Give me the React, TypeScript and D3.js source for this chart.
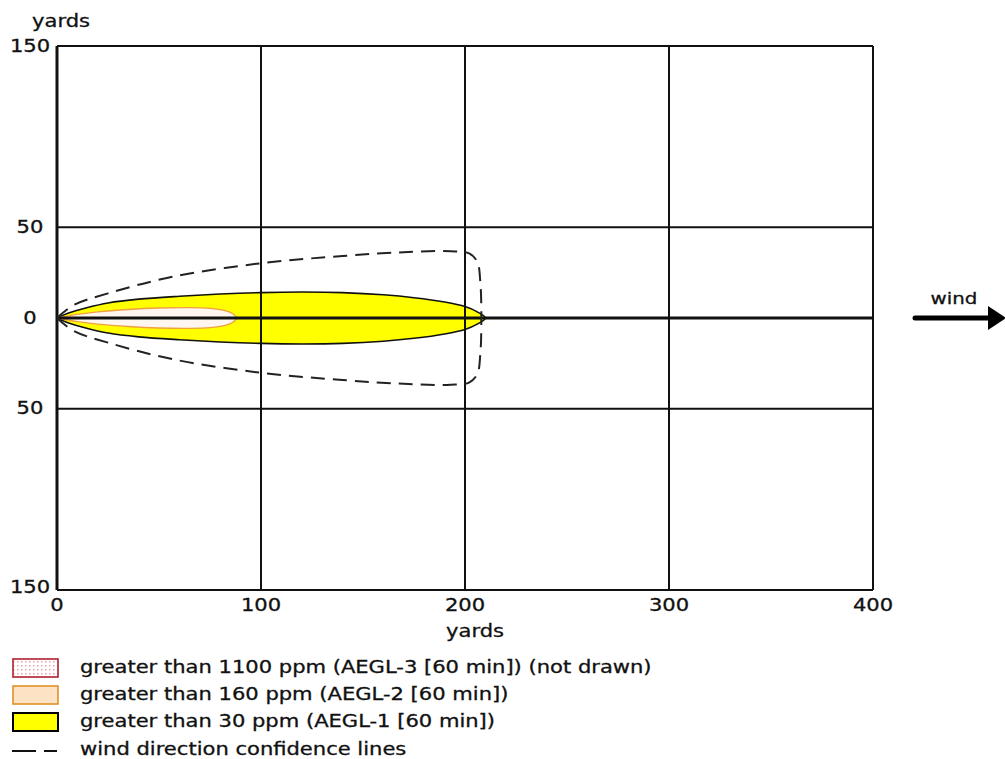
import React from 'react'
import { scaleLinear, line, curveCatmullRom } from 'd3'

// downwind distance (yards) vs half-width (yards) of each zone
const aegl1Profile: [number, number][] = [
  [0, 0], [5, 2.5], [15, 5.8], [25, 8.3], [40, 10.4], [60, 12], [80, 13.2],
  [100, 14], [120, 14.3], [140, 14], [160, 12.8], [175, 11.2], [190, 8.8],
  [200, 6.3], [206, 3.4], [210, 0],
]
const aegl2Profile: [number, number][] = [
  [0, 0], [10, 2], [20, 3.4], [35, 4.7], [50, 5.5], [65, 5.7], [75, 5.3],
  [82, 4.2], [86, 2.5], [88, 0],
]
const confidenceProfile: [number, number][] = [
  [0, 0], [8, 7], [25, 13.6], [57, 22.8], [100, 30.2], [140, 34.2],
  [170, 36.3], [193, 36.8], [202, 35.6], [206, 31], [207.5, 20], [208, 0],
]

const xTicks = [0, 100, 200, 300, 400]
const yGrid = [150, 50, 0, -50, -150]
const yLabels = ['150', '50', '0', '50', '150']

const legendLabels = [
  'greater than 1100 ppm (AEGL-3 [60 min]) (not drawn)',
  'greater than 160 ppm (AEGL-2 [60 min])',
  'greater than 30 ppm (AEGL-1 [60 min])',
  'wind direction confidence lines',
]

const FONT = 'DejaVu Sans, Verdana, sans-serif'

// text is a bit wider than DejaVu in the original, so stretch it horizontally
const T = ({ x, y, anchor = 'start', size = 17, children }: any) => (
  <text transform={`translate(${x},${y}) scale(1.24,1)`} textAnchor={anchor}
    dominantBaseline="central" fontSize={size} fill="#111" stroke="#111" strokeWidth={0.3}>
    {children}
  </text>
)

export default function App() {
  const x = scaleLinear().domain([0, 400]).range([57, 873])
  const y = scaleLinear().domain([-150, 150]).range([590, 46])

  const outline = (profile: [number, number][]) => {
    const top = profile.map(([d, w]) => [d, w] as [number, number])
    const bottom = profile.slice(0, -1).reverse().map(([d, w]) => [d, -w] as [number, number])
    return line<[number, number]>()
      .x(p => x(p[0]))
      .y(p => y(p[1]))
      .curve(curveCatmullRom)([...top, ...bottom]) || ''
  }

  const legendY = [667, 694, 721, 749]

  return (
    <svg width={1005} height={759} style={{ position: 'absolute', left: 0, top: 0, background: '#fff' }}
      fontFamily={FONT}>
      <defs>
        <pattern id="dots" width={4} height={4} patternUnits="userSpaceOnUse">
          <rect width={4} height={4} fill="#fff" />
          <rect x={1} y={1} width={1.5} height={1.5} fill="#e8a0a8" />
        </pattern>
      </defs>

      {/* plumes */}
      <path d={outline(aegl1Profile)} fill="#ffff00" stroke="#111" strokeWidth={1.6} />
      <path d={outline(aegl2Profile)} fill="#fff6ef" stroke="#f0a040" strokeWidth={1.4} />

      {/* grid */}
      {xTicks.map(t => (
        <line key={'gx' + t} x1={x(t)} x2={x(t)} y1={y(150)} y2={y(-150)}
          stroke="#111" strokeWidth={t === 0 ? 3 : 2} />
      ))}
      {yGrid.map(t => (
        <line key={'gy' + t} x1={x(0)} x2={x(400)} y1={y(t)} y2={y(t)}
          stroke="#111" strokeWidth={t === 0 ? 3 : 2} />
      ))}

      {/* confidence lines */}
      <path d={outline(confidenceProfile)} fill="none" stroke="#222" strokeWidth={2}
        strokeDasharray="14 8" />

      {/* y labels */}
      {yGrid.map((t, i) => (
        <T key={'yl' + i} x={30} y={y(t) + (t === -150 ? -3 : 0)} anchor="middle">{yLabels[i]}</T>
      ))}
      <T x={61} y={21} anchor="middle">yards</T>

      {/* x labels */}
      {xTicks.map(t => (
        <T key={'xl' + t} x={x(t)} y={605} anchor="middle">{t}</T>
      ))}
      <T x={475} y={631} anchor="middle">yards</T>

      {/* wind arrow */}
      <T x={954} y={298} anchor="middle" size={16}>wind</T>
      <line x1={915} x2={990} y1={318} y2={318} stroke="#000" strokeWidth={5} strokeLinecap="round" />
      <polygon points="988,306 1006,318 988,330" fill="#000" />

      {/* legend */}
      <rect x={13} y={659} width={45} height={18} fill="url(#dots)" stroke="#b02030" strokeWidth={1.6} />
      <rect x={13} y={686} width={45} height={18} fill="#fde2c4" stroke="#e0902a" strokeWidth={1.6} />
      <rect x={13} y={713} width={45} height={18} fill="#ffff00" stroke="#000" strokeWidth={2} />
      <line x1={12} x2={36} y1={751} y2={751} stroke="#111" strokeWidth={2} />
      <line x1={44} x2={57} y1={751} y2={751} stroke="#111" strokeWidth={2} />
      {legendLabels.map((s, i) => (
        <T key={'lg' + i} x={80} y={legendY[i]}>{s}</T>
      ))}
    </svg>
  )
}
